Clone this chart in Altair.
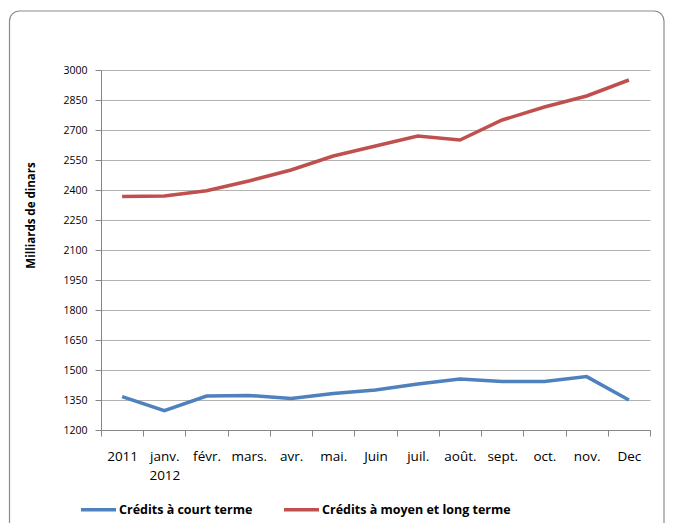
import altair as alt
import pandas as pd

months = ["2011", "janv.|2012", "févr.", "mars.", "avr.", "mai.", "Juin",
          "juil.", "août.", "sept.", "oct.", "nov.", "Dec"]
court = [1367, 1297, 1370, 1373, 1358, 1383, 1400, 1430, 1455, 1442, 1443, 1467, 1350]
moyen = [2367, 2370, 2396, 2445, 2500, 2570, 2620, 2670, 2650, 2750, 2815, 2870, 2950]
series_names = ["Crédits à court terme", "Crédits à moyen et long terme"]
colors = ["#4F81BD", "#C0504D"]
y_ticks = list(range(1200, 3001, 150))

rows = []
for m, c, l in zip(months, court, moyen):
    rows.append({"mois": m, "serie": series_names[0], "valeur": c})
    rows.append({"mois": m, "serie": series_names[1], "valeur": l})
df = pd.DataFrame(rows)

FONT = "Open Sans"

frame = alt.Chart(pd.DataFrame({"a": [0]})).mark_rect(
    fill=None, stroke="#8c8c8c", strokeWidth=1.2, cornerRadius=10, clip=False
).encode(
    x=alt.value(-91.5), x2=alt.value(563),
    y=alt.value(-59), y2=alt.value(480)
)

lines = alt.Chart(df).mark_line(strokeWidth=3.5).encode(
    x=alt.X("mois:N", sort=months,
            scale=alt.Scale(paddingInner=0, paddingOuter=0),
            axis=alt.Axis(title=None, labelAngle=0, tickBand="extent",
                          labelExpr="split(datum.label, '|')",
                          labelFont=FONT, labelFontSize=13.5, labelColor="#000",
                          labelPadding=13, labelLineHeight=19,
                          labelBaseline="top",
                          domainColor="#868686", tickColor="#868686", tickSize=6,
                          grid=False)),
    y=alt.Y("valeur:Q",
            scale=alt.Scale(domain=[1200, 3000], nice=False, zero=False),
            axis=alt.Axis(title="Milliards de dinars", values=y_ticks, format="d",
                          titleFont=FONT, titleFontSize=11.5, titleFontWeight="bold",
                          titleColor="#000", titleAngle=270,
                          titleX=-70, titleY=145, titleAlign="center",
                          titleBaseline="middle",
                          labelFont=FONT, labelFontSize=10.5, labelColor="#000",
                          labelPadding=8, tickSize=6,
                          domainColor="#868686", tickColor="#868686",
                          gridColor="#b3b3b3", gridWidth=1)),
    color=alt.Color("serie:N", sort=series_names,
                    scale=alt.Scale(domain=series_names, range=colors),
                    legend=alt.Legend(title=None, orient="none", direction="horizontal",
                                      legendX=-22, legendY=420,
                                      symbolType="stroke", symbolSize=1225,
                                      symbolStrokeWidth=3.5, labelOffset=1,
                                      columnPadding=24,
                                      labelFont=FONT, labelFontSize=12.5,
                                      labelFontWeight="bold", labelColor="#000",
                                      labelLimit=400))
)

chart = alt.layer(frame, lines).properties(
    width=549, height=360,
    autosize=alt.AutoSizeParams(type="none"),
    padding={"left": 93, "top": 62, "right": 16, "bottom": 93},
    background="white"
).configure_view(stroke=None)

chart.save("out.html", embed_options={"renderer": "svg", "actions": False})
